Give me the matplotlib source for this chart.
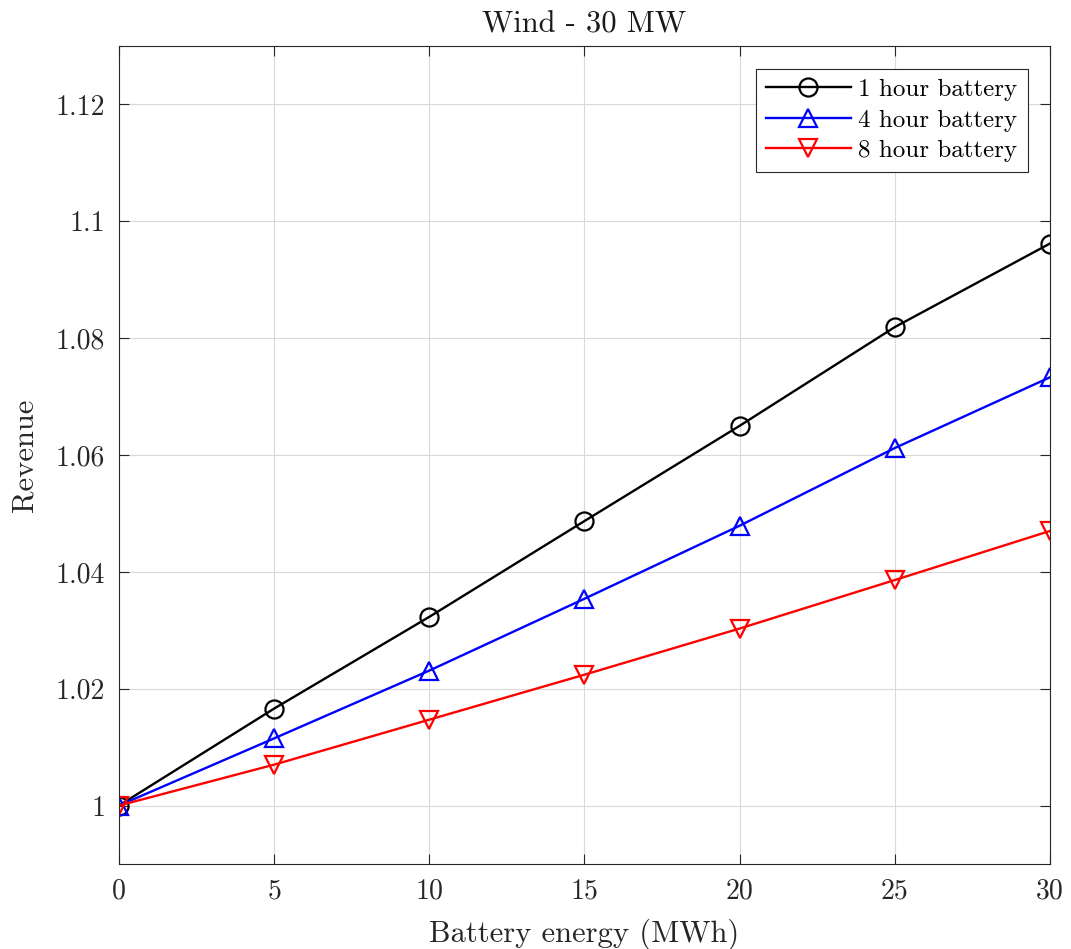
import numpy as np
import matplotlib
matplotlib.use("Agg")
import matplotlib.pyplot as plt

plt.rcParams['font.family'] = ['cmr10', 'DejaVu Serif']
plt.rcParams['axes.formatter.use_mathtext'] = True

# battery energy (MWh) and normalised revenue
energia = [0, 5, 10, 15, 20, 25, 30]
rev_1h = [1.0, 1.0166, 1.0323, 1.0487, 1.0650, 1.0819, 1.0962]
rev_4h = [1.0, 1.0115, 1.0231, 1.0354, 1.0479, 1.0612, 1.0733]
rev_8h = [1.0, 1.0070, 1.0147, 1.0224, 1.0303, 1.0386, 1.0470]

yticks = [1.0, 1.02, 1.04, 1.06, 1.08, 1.10, 1.12]
ylabels = ['1', '1.02', '1.04', '1.06', '1.08', '1.1', '1.12']
xticks = [0, 5, 10, 15, 20, 25, 30]

fig = plt.figure(figsize=(10.71, 9.49), dpi=100)
ax = fig.add_axes([0.1111, 0.0896, 0.8693, 0.8619])

ax.plot(energia, rev_1h, '-o', color='black', lw=1.7, ms=13, mfc='none', mew=1.6, label='1 hour battery')
ax.plot(energia, rev_4h, '-^', color='blue', lw=1.7, ms=13, mfc='none', mew=1.6, label='4 hour battery')
ax.plot(energia, rev_8h, '-v', color='red', lw=1.7, ms=13, mfc='none', mew=1.6, label='8 hour battery')

ax.set_xlim(0, 30)
ax.set_ylim(0.99, 1.13)
ax.set_xticks(xticks)
ax.set_xticklabels([str(x) for x in xticks])
ax.set_yticks(yticks)
ax.set_yticklabels(ylabels)

ax.grid(True, color='#d9d9d9', lw=0.8)
ax.set_axisbelow(True)
for s in ax.spines.values():
    s.set_color('#262626')
    s.set_linewidth(0.8)
ax.tick_params(direction='in', length=7, width=0.8, colors='#262626',
               labelsize=20, top=True, right=True, pad=10)

ax.set_xlabel('Battery energy (MWh)', fontsize=22, color='#262626', labelpad=10)
ax.set_ylabel('Revenue', fontsize=22, color='#262626', labelpad=12)
ax.set_title('Wind - 30 MW', fontsize=22, color='#1a1a1a', pad=10)

leg = ax.legend(loc='upper right', fontsize=18, fancybox=False, framealpha=1,
                edgecolor='#262626', borderpad=0.4, labelspacing=0.32,
                handlelength=3.4, handletextpad=0.3, borderaxespad=0.9)
leg.get_frame().set_linewidth(0.8)

fig.savefig('out.png', dpi=100)
